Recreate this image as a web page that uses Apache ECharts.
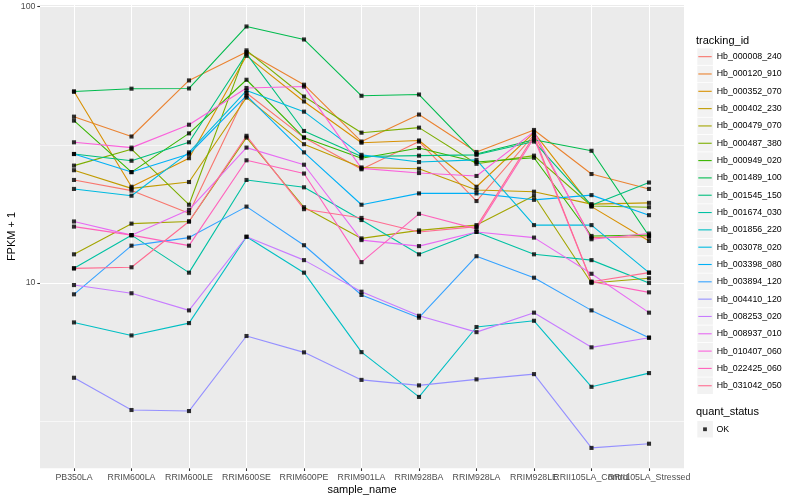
<!DOCTYPE html>
<html>
<head>
<meta charset="utf-8">
<script src="https://cdn.jsdelivr.net/npm/echarts@6/dist/echarts.min.js"></script>
<style>
html,body{margin:0;padding:0;background:#fff;}
#chart{width:800px;height:500px;}
</style>
</head>
<body>
<div id="chart"></div>
<script>
// ---------- data ----------
var sampleNames = ["PB350LA","RRIM600LA","RRIM600LE","RRIM600SE","RRIM600PE","RRIM901LA","RRIM928BA","RRIM928LA","RRIM928LE","RRII105LA_Control","RRII105LA_Stressed"];
var trackingIds = ["Hb_000008_240","Hb_000120_910","Hb_000352_070","Hb_000402_230","Hb_000479_070","Hb_000487_380","Hb_000949_020","Hb_001489_100","Hb_001545_150","Hb_001674_030","Hb_001856_220","Hb_003078_020","Hb_003398_080","Hb_003894_120","Hb_004410_120","Hb_008253_020","Hb_008937_010","Hb_010407_060","Hb_022425_060","Hb_031042_050"];
var yTickLabels = ["10","100"];
var statusLevels = ["OK"];

var Hb_000008_240 = [23.6, 21.6, 17.9, 48.7, 33.6, 25.8, 32.5, 19.8, 34.4, 14.6, 14.7];
var Hb_000120_910 = [40.0, 33.9, 54.1, 68.5, 52.2, 32.5, 40.7, 29.8, 35.8, 24.8, 21.9];
var Hb_000352_070 = [49.3, 22.3, 28.3, 66.4, 45.4, 32.2, 32.8, 22.3, 35.0, 18.9, 14.2];
var Hb_000402_230 = [25.6, 22.0, 23.2, 46.9, 31.8, 26.2, 25.9, 21.7, 21.4, 19.3, 19.5];
var Hb_000479_070 = [12.7, 16.4, 16.7, 33.6, 18.8, 14.5, 15.5, 16.2, 20.7, 10.0, 10.4];
var Hb_000487_380 = [26.6, 30.5, 19.2, 69.5, 47.3, 35.0, 36.5, 27.0, 28.9, 19.0, 18.8];
var Hb_000949_020 = [38.7, 25.2, 34.8, 54.4, 33.6, 28.3, 30.8, 27.4, 28.4, 14.8, 14.9];
var Hb_001489_100 = [49.3, 50.5, 50.6, 84.8, 76.1, 47.6, 48.1, 29.3, 33.0, 30.1, 14.8];
var Hb_001545_150 = [29.3, 27.7, 32.3, 67.6, 35.5, 28.7, 28.9, 29.1, 32.5, 19.1, 23.1];
var Hb_001674_030 = [11.3, 14.9, 10.9, 23.6, 22.2, 16.9, 12.7, 15.3, 12.7, 12.1, 10.0];
var Hb_001856_220 = [7.20, 6.46, 7.16, 14.7, 10.9, 5.62, 3.87, 6.93, 7.30, 4.21, 4.72];
var Hb_003078_020 = [21.9, 20.7, 29.7, 49.7, 41.7, 29.1, 27.4, 27.9, 16.2, 16.2, 10.9];
var Hb_003398_080 = [29.3, 25.2, 29.3, 47.7, 29.7, 19.2, 21.1, 21.1, 20.0, 20.8, 17.6];
var Hb_003894_120 = [9.10, 13.65, 14.6, 18.9, 13.7, 9.05, 7.49, 12.5, 10.45, 7.96, 6.34];
var Hb_004410_120 = [4.54, 3.47, 3.44, 6.43, 5.61, 4.46, 4.26, 4.48, 4.68, 2.53, 2.62];
var Hb_008253_020 = [9.83, 9.18, 7.96, 14.7, 12.1, 9.30, 7.61, 6.64, 7.81, 5.85, 6.34];
var Hb_008937_010 = [16.7, 14.9, 18.4, 30.9, 26.8, 14.3, 13.6, 15.3, 14.6, 10.8, 7.81];
var Hb_010407_060 = [32.3, 30.9, 37.4, 50.8, 51.4, 26.0, 25.0, 24.4, 35.3, 14.4, 15.1];
var Hb_022425_060 = [16.0, 14.9, 13.65, 27.8, 24.9, 11.9, 17.8, 15.7, 33.5, 10.1, 9.25];
var Hb_031042_050 = [11.3, 11.4, 16.7, 34.1, 18.5, 17.2, 15.3, 16.0, 34.1, 10.1, 10.9];

var seriesValues = [Hb_000008_240, Hb_000120_910, Hb_000352_070, Hb_000402_230, Hb_000479_070, Hb_000487_380, Hb_000949_020, Hb_001489_100, Hb_001545_150, Hb_001674_030, Hb_001856_220, Hb_003078_020, Hb_003398_080, Hb_003894_120, Hb_004410_120, Hb_008253_020, Hb_008937_010, Hb_010407_060, Hb_022425_060, Hb_031042_050];

// ---------- style ----------
var palette = ["#F8766D","#EA8331","#D89000","#C09B00","#A3A500","#7CAE00","#39B600","#00BB4E","#00BF7D","#00C1A3","#00BFC4","#00BAE0","#00B0F6","#35A2FF","#9590FF","#C77CFF","#E76BF3","#FA62DB","#FF62BC","#FF6C91"];
var FONT = "'Liberation Sans', Arial, Helvetica, sans-serif";
var Y_MIN = 2.1348, Y_MAX = 101.43;
var PANEL = {left: 40, right: 684, top: 5, bottom: 468.3};
var firstX = 74, lastX = 649;

var chart = echarts.init(document.getElementById('chart'), null, {renderer: 'canvas'});

var lineSeries = trackingIds.map(function (id, i) {
  return {
    name: id,
    type: 'line',
    xAxisIndex: 1,
    yAxisIndex: 1,
    data: seriesValues[i],
    symbol: 'none',
    silent: true,
    lineStyle: {width: 1.1, color: palette[i]},
    itemStyle: {color: palette[i]},
    animation: false,
    z: 3
  };
});

var pointData = [];
seriesValues.forEach(function (vals) {
  vals.forEach(function (v, j) { pointData.push([j, v]); });
});
var pointSeries = {
  name: statusLevels[0],
  type: 'scatter',
  xAxisIndex: 1,
  yAxisIndex: 1,
  data: pointData,
  symbol: 'rect',
  symbolSize: 4.1,
  itemStyle: {color: '#000000'},
  silent: true,
  animation: false,
  z: 5
};

var graphics = [];
// legend key backgrounds
var keyTop = 48.0, keyStep = 17.32;
for (var k = 0; k < trackingIds.length; k++) {
  graphics.push({type: 'rect', silent: true, z: -1,
    shape: {x: 697.3, y: keyTop + k * keyStep + 0.4, width: 15.6, height: 16.5},
    style: {fill: '#F2F2F2'}});
}
graphics.push({type: 'rect', silent: true, z: -1,
  shape: {x: 697.3, y: 421.0, width: 15.6, height: 16.5}, style: {fill: '#F2F2F2'}});
graphics.push({type: 'text', silent: true, x: 696, y: 40.7,
  style: {text: 'tracking_id', font: '11px ' + FONT, fill: '#000', textAlign: 'left', textVerticalAlign: 'middle'}});
graphics.push({type: 'text', silent: true, x: 696, y: 412.3,
  style: {text: 'quant_status', font: '11px ' + FONT, fill: '#000', textAlign: 'left', textVerticalAlign: 'middle'}});
graphics.push({type: 'text', silent: true, x: (PANEL.left + PANEL.right) / 2, y: 489.5,
  style: {text: 'sample_name', font: '11px ' + FONT, fill: '#000', textAlign: 'center', textVerticalAlign: 'middle'}});
graphics.push({type: 'text', silent: true, x: 12, y: 236.5, rotation: Math.PI / 2,
  style: {text: 'FPKM + 1', font: '11px ' + FONT, fill: '#000', textAlign: 'center', textVerticalAlign: 'middle'}});

var panelBox = {left: PANEL.left, right: 800 - PANEL.right, top: PANEL.top, bottom: 500 - PANEL.bottom, containLabel: false};

var option = {
  backgroundColor: '#FFFFFF',
  animation: false,
  textStyle: {fontFamily: FONT},
  grid: [
    Object.assign({show: true, backgroundColor: '#EBEBEB', borderWidth: 0, z: 0}, panelBox),
    {left: firstX, right: 800 - lastX, top: PANEL.top, bottom: 500 - PANEL.bottom,
     show: false, containLabel: false},
    Object.assign({show: false}, panelBox)
  ],
  xAxis: [
    {gridIndex: 0, type: 'value', min: 0, max: 1, show: false},
    {gridIndex: 1, type: 'category', data: sampleNames, boundaryGap: false,
     axisLine: {show: false},
     axisTick: {show: true, length: 2.7, lineStyle: {color: '#333333', width: 1.07}},
     axisLabel: {interval: 0, hideOverlap: false, margin: 5, fontSize: 8.8, color: '#4D4D4D', fontFamily: FONT},
     splitLine: {show: true, lineStyle: {color: '#FFFFFF', width: 1.07}},
     z: 2},
    {gridIndex: 2, type: 'value', min: 0, max: 1, show: false}
  ],
  yAxis: [
    {gridIndex: 0, type: 'log', logBase: 10, min: Y_MIN, max: Y_MAX,
     axisLine: {show: false},
     axisTick: {show: true, length: 2.7, lineStyle: {color: '#333333', width: 1.07}},
     axisLabel: {margin: 4.5, fontSize: 8.8, color: '#4D4D4D', fontFamily: FONT,
       showMinLabel: false, showMaxLabel: false,
       formatter: function (v) {
         var r = Math.round(v);
         var s = String(r);
         return (Math.abs(v - r) < 1e-6 && yTickLabels.indexOf(s) >= 0) ? s : '';
       }},
     splitLine: {show: true, showMinLine: false, showMaxLine: false, lineStyle: {color: '#FFFFFF', width: 1.07}},
     z: 2},
    {gridIndex: 1, type: 'log', logBase: 10, min: Y_MIN, max: Y_MAX, show: false,
     splitLine: {show: false}},
    // auxiliary axis in log10 units (own grid), used only for the thin half-decade grid lines
    {gridIndex: 2, type: 'value', min: Math.log10(Y_MIN), max: Math.log10(Y_MAX), splitNumber: 4,
     axisLine: {show: false}, axisTick: {show: false}, axisLabel: {show: false},
     splitLine: {show: true, showMinLine: false, showMaxLine: false, lineStyle: {color: '#F7F7F7', width: 1.0}},
     z: 1}
  ],
  legend: [
    {data: trackingIds, orient: 'vertical', left: 698.3, top: keyTop, padding: 0, itemGap: 0,
     icon: 'rect', itemWidth: 13.4, itemHeight: 1.1, selectedMode: false,
     textStyle: {fontSize: 8.8, color: '#000000', fontFamily: FONT, lineHeight: keyStep}},
    {data: statusLevels, orient: 'vertical', left: 703.1, top: 421.0, padding: 0, itemGap: 0,
     icon: 'rect', itemWidth: 3.8, itemHeight: 3.8, selectedMode: false,
     textStyle: {fontSize: 8.8, color: '#000000', fontFamily: FONT, lineHeight: 16.5, padding: [0, 0, 0, 4.5]}}
  ],
  graphic: graphics,
  series: lineSeries.concat([pointSeries])
};
chart.setOption(option);
</script>
</body>
</html>
